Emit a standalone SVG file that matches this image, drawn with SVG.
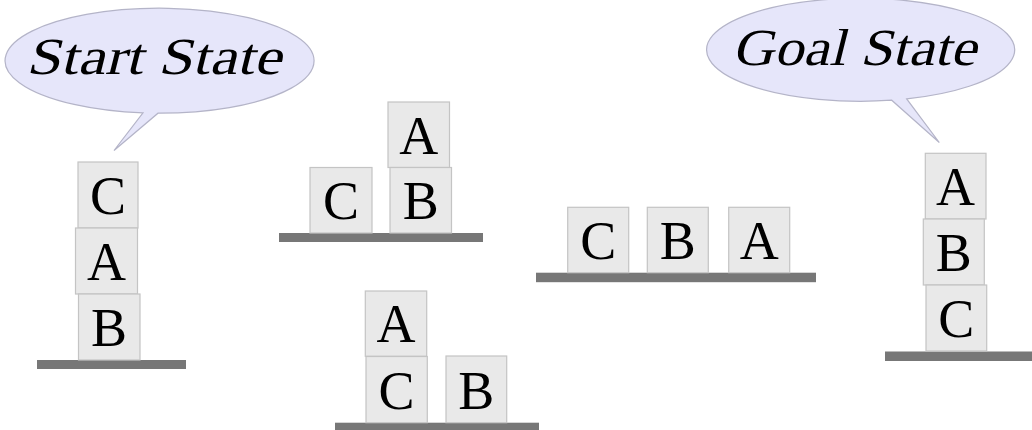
<svg xmlns="http://www.w3.org/2000/svg" width="1032" height="430" viewBox="0 0 1032 430">
<style>
.bubble{fill:#e6e6fa;stroke:#b4b4c8;stroke-width:1.2}
.btxt{font-family:"Liberation Serif",serif;font-size:52px;fill:#000}
.box{fill:#e9e9e9;stroke:#c4c4c4;stroke-width:1.2}
.lbl{font-family:"Liberation Serif",serif;font-size:54px;fill:#000;text-anchor:middle}
.ground{fill:#777777}
</style>
<rect width="1032" height="430" fill="#ffffff"/>
<g id="start-bubble">
<path class="bubble" d="M143,112.9 A154.5,52.5 0 1 1 158,113.2 L114,150.5 Z"/>
<g transform="translate(26,74) skewX(-14)"><text class="btxt" x="0" y="0" textLength="255" lengthAdjust="spacingAndGlyphs">Start State</text></g>
</g>
<g id="goal-bubble">
<path class="bubble" d="M891.7,100.2 A154,51.5 0 1 1 906.7,98.9 L939.3,142.5 Z"/>
<g transform="translate(732,65) skewX(-14)"><text class="btxt" x="0" y="0" textLength="244" lengthAdjust="spacingAndGlyphs">Goal State</text></g>
</g>
<g id="state-start">
<rect class="ground" x="37" y="360" width="149" height="9"/>
<rect class="box" x="78" y="162" width="60" height="66"/><text class="lbl" x="108" y="214">C</text>
<rect class="box" x="75.5" y="228" width="62" height="66"/><text class="lbl" x="106.5" y="280">A</text>
<rect class="box" x="78.5" y="294" width="61.5" height="66"/><text class="lbl" x="109" y="346">B</text>
</g>
<g id="state-2">
<rect class="ground" x="279" y="233" width="204" height="9"/>
<rect class="box" x="310" y="167.5" width="62" height="65.5"/><text class="lbl" x="341" y="219">C</text>
<rect class="box" x="388" y="102" width="61.5" height="65.5"/><text class="lbl" x="418.7" y="153.5">A</text>
<rect class="box" x="390" y="167.5" width="61.5" height="65.5"/><text class="lbl" x="420.7" y="219">B</text>
</g>
<g id="state-3">
<rect class="ground" x="536" y="272.7" width="280" height="9.5"/>
<rect class="box" x="567.7" y="207.3" width="61" height="65.4"/><text class="lbl" x="598.2" y="259">C</text>
<rect class="box" x="647.3" y="207.3" width="61" height="65.4"/><text class="lbl" x="677.8" y="259">B</text>
<rect class="box" x="728.7" y="207.3" width="61" height="65.4"/><text class="lbl" x="759.2" y="259">A</text>
</g>
<g id="state-4">
<rect class="ground" x="335" y="422.7" width="204" height="9"/>
<rect class="box" x="365.3" y="291" width="61.4" height="65.3"/><text class="lbl" x="396" y="342">A</text>
<rect class="box" x="366" y="356.5" width="61.3" height="66.2"/><text class="lbl" x="396.6" y="408.5">C</text>
<rect class="box" x="446" y="356" width="60.7" height="66.7"/><text class="lbl" x="476.3" y="408.5">B</text>
</g>
<g id="state-goal">
<rect class="ground" x="885" y="351.5" width="150" height="9.5"/>
<rect class="box" x="925.3" y="153.3" width="60.7" height="65.7"/><text class="lbl" x="955.6" y="205">A</text>
<rect class="box" x="923.3" y="219" width="61" height="66"/><text class="lbl" x="953.8" y="271">B</text>
<rect class="box" x="926" y="285" width="60.7" height="66"/><text class="lbl" x="956.3" y="337">C</text>
</g>
</svg>
